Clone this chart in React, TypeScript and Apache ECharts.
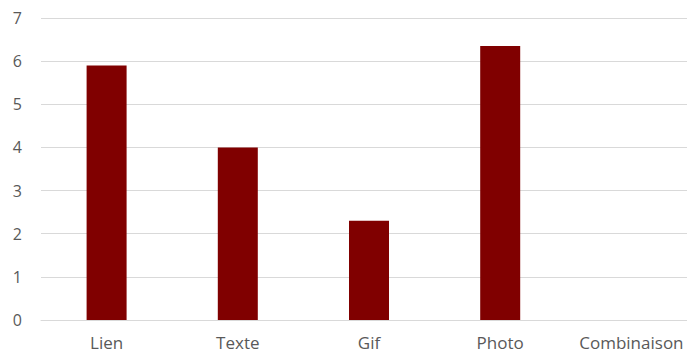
import React, { useEffect, useRef } from "react";
import * as echarts from "echarts";

const categories = ["Lien", "Texte", "Gif", "Photo", "Combinaison"];
const values = [5.9, 4.0, 2.3, 6.35, 0];
const yTicks = [0, 1, 2, 3, 4, 5, 6, 7];

export default function App() {
  const ref = useRef<HTMLDivElement>(null);
  useEffect(() => {
    if (!ref.current) return;
    const chart = echarts.init(ref.current, null, { renderer: "svg" });
    chart.setOption({
      animation: false,
      backgroundColor: "#ffffff",
      grid: { left: 41, top: 18, width: 656, height: 302, containLabel: false },
      xAxis: {
        type: "category",
        data: categories,
        axisLine: { show: true, lineStyle: { color: "#d9d9d9", width: 1 } },
        axisTick: { show: false },
        axisLabel: {
          color: "#595959",
          fontSize: 17,
          lineHeight: 17,
          fontFamily: "Open Sans",
          margin: 14,
          interval: 0,
          hideOverlap: false,
        },
      },
      yAxis: {
        type: "value",
        min: yTicks[0],
        max: yTicks[yTicks.length - 1],
        interval: 1,
        axisLine: { show: false },
        axisTick: { show: false },
        splitLine: { lineStyle: { color: "#d9d9d9", width: 1 } },
        axisLabel: { color: "#595959", fontSize: 16, fontFamily: "Open Sans", margin: 19 },
      },
      series: [
        {
          type: "bar",
          data: values,
          barWidth: 40,
          itemStyle: { color: "#800000" },
        },
      ],
    });
    return () => chart.dispose();
  }, []);
  return (
    <div
      ref={ref}
      style={{ position: "fixed", left: 0, top: 0, width: 700, height: 354 }}
    />
  );
}
